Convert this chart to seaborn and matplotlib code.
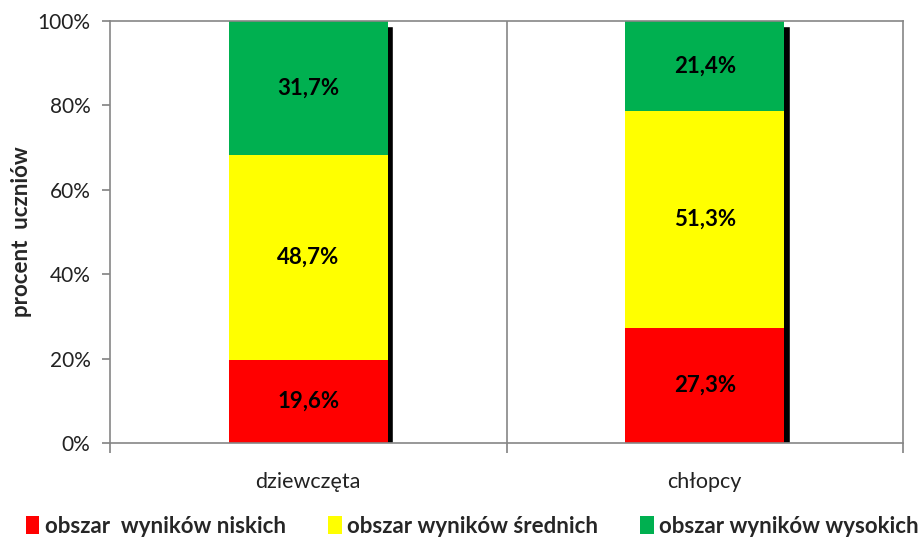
import matplotlib
matplotlib.use("Agg")
import matplotlib.pyplot as plt
from matplotlib.patches import Patch
import seaborn as sns
import numpy as np
import pandas as pd

categories = ["dziewczęta", "chłopcy"]
series_names = ["obszar  wyników niskich", "obszar wyników średnich", "obszar wyników wysokich"]
niskie = [19.6, 27.3]
srednie = [48.7, 51.3]
wysokie = [31.7, 21.4]
yticks = [0, 20, 40, 60, 80, 100]
colors = ["#FF0000", "#FFFF00", "#00B050"]

sns.set_theme(style="white")
plt.rcParams['font.family'] = ['Lato', 'DejaVu Sans']

fig = plt.figure(figsize=(9.21, 5.38), dpi=100)
ax = fig.add_axes([110/921, 1-443/538, (903-110)/921, (443-21)/538])

x = np.arange(len(categories))
w = 0.4
vals = [niskie, srednie, wysokie]
totals = np.sum(vals, axis=0)

# shadow
ax.bar(x + 0.014, totals - 1.2, width=w, color="black", zorder=1)

bottom = np.zeros(len(categories))
for name, v, c in zip(series_names, vals, colors):
    df = pd.DataFrame({"x": x, "v": v})
    ax.bar(df["x"], df["v"], bottom=bottom, width=w, color=c, zorder=2, linewidth=0)
    for xi, vi, bi in zip(x, v, bottom):
        ax.text(xi, bi + vi/2, f"{vi:.1f}%".replace('.', ','), ha="center", va="center",
                fontsize=16, fontweight="bold", color="black", zorder=3)
    bottom = bottom + np.array(v)

ax.set_xlim(-0.5, len(categories) - 0.5)
ax.set_ylim(0, 100)
ax.set_yticks(yticks)
ax.set_yticklabels([f"{t}%" for t in yticks], fontsize=15, color="#222222")
ax.set_xticks([-0.5, 0.5, 1.5])
ax.set_xticklabels([])
ax.set_xticks(x, minor=True)
ax.set_xticklabels(categories, minor=True, fontsize=15.5, color="#222222")
ax.tick_params(axis="x", which="major", length=7, color="#868686", direction="out", bottom=True)
ax.tick_params(axis="x", which="minor", length=0, pad=21)
ax.tick_params(axis="y", length=6, color="#868686", direction="out", left=True, pad=8)
ax.axvline(0.5, color="#868686", linewidth=1.2, zorder=0)
for s in ax.spines.values():
    s.set_color("#868686")
    s.set_linewidth(1.2)
ax.grid(False)

ax.set_ylabel("procent  uczniów", fontsize=16, fontweight="bold", labelpad=10)
ax.yaxis.set_label_coords(-0.098, 0.5)

handles = [Patch(facecolor=c, edgecolor="none") for c in colors]
fig.legend(handles, series_names, loc="lower center", bbox_to_anchor=(0.513, -0.035), ncol=3,
           frameon=False, prop={"weight": "bold", "size": 16}, handlelength=0.6, handleheight=0.9,
           handletextpad=0.25, columnspacing=1.9)

fig.savefig("out.png", dpi=100)
